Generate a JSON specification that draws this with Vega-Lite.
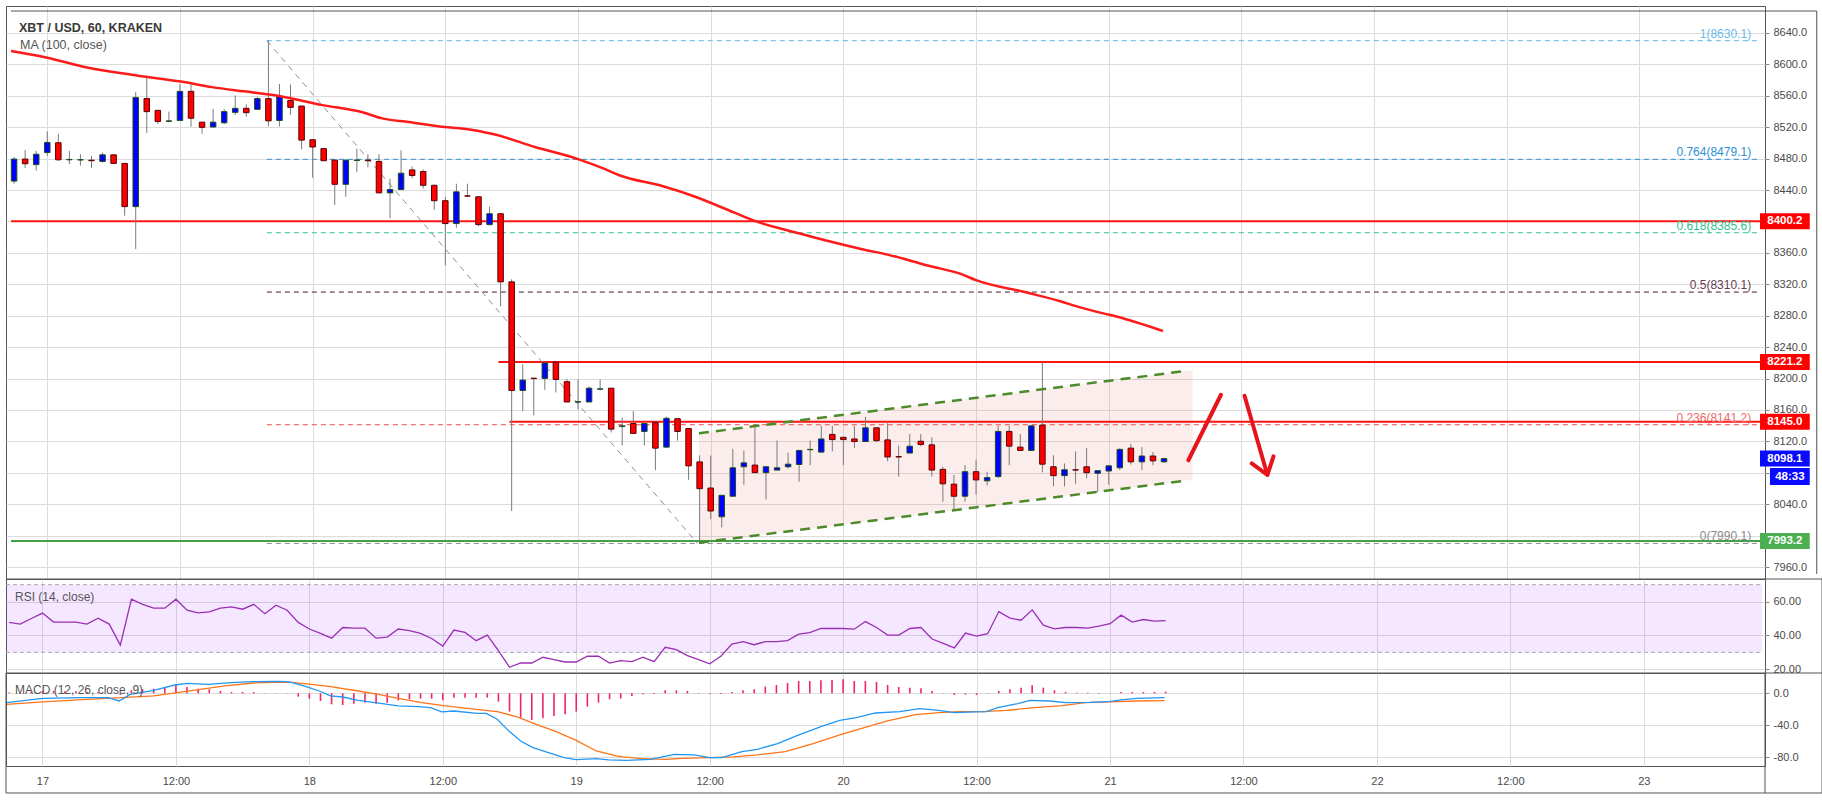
{
"$schema":"https://vega.github.io/schema/vega-lite/v6.json",
"background":"white",
"padding":{"left":3,"top":5,"right":0,"bottom":0},
"autosize":{"type":"pad"},
"bounds":"flush",
"spacing":0,
"config":{
 "view":{"stroke":"#555555","strokeWidth":1},
 "axis":{"labelFont":"Liberation Sans","labelFontSize":11,"labelColor":"#4a4a4a","gridColor":"#dcdcdc","gridWidth":1,"domain":false,"tickColor":"#888888","labelOverlap":false,"labelFlush":false,"title":null},
 "text":{"font":"Liberation Sans"}
},
"datasets":{
"candles":[
{"t":-3,"o":8451.4,"h":8482,"l":8448,"c":8479.4},
{"t":-2,"o":8479.4,"h":8491,"l":8468.1,"c":8473.5},
{"t":-1,"o":8472.3,"h":8489.8,"l":8464.8,"c":8485.6},
{"t":0,"o":8487.7,"h":8514.8,"l":8483.5,"c":8500.6},
{"t":1,"o":8500.2,"h":8511.4,"l":8477.3,"c":8478.5},
{"t":2,"o":8478.5,"h":8489.8,"l":8473,"c":8478.9},
{"t":3,"o":8478.3,"h":8485.6,"l":8471,"c":8478.6},
{"t":4,"o":8478,"h":8483.5,"l":8468,"c":8477.3},
{"t":5,"o":8476.4,"h":8487.7,"l":8475,"c":8484.8},
{"t":6,"o":8484.8,"h":8485.6,"l":8473.5,"c":8473.9},
{"t":7,"o":8473.9,"h":8474.2,"l":8407.3,"c":8418.9},
{"t":8,"o":8418.9,"h":8564.8,"l":8364.8,"c":8557.7},
{"t":9,"o":8556.4,"h":8585.6,"l":8512.7,"c":8539.8},
{"t":10,"o":8541.4,"h":8541.6,"l":8524,"c":8527.3},
{"t":11,"o":8527.5,"h":8539.8,"l":8526.4,"c":8528},
{"t":12,"o":8528.5,"h":8575.2,"l":8528,"c":8565.6},
{"t":13,"o":8565.6,"h":8576,"l":8520.6,"c":8531.4},
{"t":14,"o":8526.4,"h":8526.6,"l":8511.4,"c":8519.8},
{"t":15,"o":8520.2,"h":8543.1,"l":8519.8,"c":8526.4},
{"t":16,"o":8525.6,"h":8543,"l":8524,"c":8539.8},
{"t":17,"o":8538.9,"h":8560.6,"l":8535.6,"c":8544},
{"t":18,"o":8544,"h":8549,"l":8533.5,"c":8538.5},
{"t":19,"o":8542.7,"h":8558.5,"l":8542,"c":8556.4},
{"t":20,"o":8556.4,"h":8630.1,"l":8521,"c":8528.1},
{"t":21,"o":8528.5,"h":8575,"l":8521,"c":8559.4},
{"t":22,"o":8554,"h":8574.4,"l":8535.6,"c":8545.2},
{"t":23,"o":8546.9,"h":8547,"l":8491.9,"c":8503.5},
{"t":24,"o":8504,"h":8504.2,"l":8455.6,"c":8494.8},
{"t":25,"o":8492.7,"h":8492.9,"l":8477,"c":8477.3},
{"t":26,"o":8478.1,"h":8478.3,"l":8421,"c":8447.3},
{"t":27,"o":8447.3,"h":8478.5,"l":8431.4,"c":8478.1},
{"t":28,"o":8477.7,"h":8492.7,"l":8462.7,"c":8478.1},
{"t":29,"o":8478,"h":8485.6,"l":8469,"c":8477.3},
{"t":30,"o":8476.4,"h":8485.6,"l":8436,"c":8436.4},
{"t":31,"o":8436.4,"h":8454.4,"l":8404,"c":8440.6},
{"t":32,"o":8440.6,"h":8490.6,"l":8440,"c":8461.4},
{"t":33,"o":8465.6,"h":8470,"l":8455,"c":8458.5},
{"t":34,"o":8463.5,"h":8466,"l":8442,"c":8446},
{"t":35,"o":8446,"h":8447,"l":8414.8,"c":8426.4},
{"t":36,"o":8426.4,"h":8431.4,"l":8343.9,"c":8397.3},
{"t":37,"o":8397.3,"h":8448,"l":8391.9,"c":8437.7},
{"t":38,"o":8432.5,"h":8448,"l":8431,"c":8432.3},
{"t":39,"o":8431.4,"h":8432,"l":8394,"c":8396},
{"t":40,"o":8396,"h":8418.9,"l":8395,"c":8409.8},
{"t":41,"o":8409.8,"h":8410,"l":8291.9,"c":8323.1},
{"t":42,"o":8323.1,"h":8326.4,"l":8031.4,"c":8184.8},
{"t":43,"o":8184.8,"h":8218.1,"l":8158.5,"c":8198.1},
{"t":44,"o":8200.5,"h":8200.6,"l":8153.1,"c":8200},
{"t":45,"o":8200.2,"h":8221,"l":8185.6,"c":8219.8},
{"t":46,"o":8221,"h":8221.2,"l":8182.3,"c":8198.9},
{"t":47,"o":8196,"h":8199,"l":8170,"c":8170.2},
{"t":48,"o":8170,"h":8199,"l":8160.6,"c":8170.5},
{"t":49,"o":8170.2,"h":8189.8,"l":8170,"c":8187.7},
{"t":50,"o":8186.5,"h":8199,"l":8184.8,"c":8186.9},
{"t":51,"o":8187.7,"h":8188,"l":8131.4,"c":8135.6},
{"t":52,"o":8138.9,"h":8150.2,"l":8114.8,"c":8139.8},
{"t":53,"o":8142.7,"h":8158.5,"l":8130,"c":8130.2},
{"t":54,"o":8132.7,"h":8143,"l":8114.8,"c":8142.7},
{"t":55,"o":8143.9,"h":8144,"l":8083.5,"c":8111.4},
{"t":56,"o":8112.7,"h":8151.4,"l":8112.5,"c":8149.4},
{"t":57,"o":8148.9,"h":8149,"l":8121,"c":8132.7},
{"t":58,"o":8136.4,"h":8136.6,"l":8071,"c":8088.9},
{"t":59,"o":8093.9,"h":8102.3,"l":7990.1,"c":8059.8},
{"t":60,"o":8060.6,"h":8102,"l":8021,"c":8031.4},
{"t":61,"o":8024,"h":8051.6,"l":8010.6,"c":8051.4},
{"t":62,"o":8050.2,"h":8110.6,"l":8050,"c":8086.4},
{"t":63,"o":8087.7,"h":8108.5,"l":8064.8,"c":8092.7},
{"t":64,"o":8089.8,"h":8141.9,"l":8080,"c":8080.2},
{"t":65,"o":8080.2,"h":8088,"l":8046,"c":8087.7},
{"t":66,"o":8083.5,"h":8121,"l":8083.3,"c":8086.4},
{"t":67,"o":8087.7,"h":8105.6,"l":8085.6,"c":8091},
{"t":68,"o":8090.6,"h":8108.7,"l":8068.9,"c":8108.5},
{"t":69,"o":8109.4,"h":8121,"l":8089.8,"c":8109.8},
{"t":70,"o":8106.4,"h":8139.8,"l":8106.2,"c":8123.1},
{"t":71,"o":8128.9,"h":8139.8,"l":8107.3,"c":8122.3},
{"t":72,"o":8125.2,"h":8125.4,"l":8089.8,"c":8122.3},
{"t":73,"o":8123.1,"h":8139.8,"l":8111.4,"c":8119.8},
{"t":74,"o":8119.8,"h":8151.4,"l":8119.6,"c":8137.3},
{"t":75,"o":8137.3,"h":8137.5,"l":8119,"c":8121},
{"t":76,"o":8121.9,"h":8143.1,"l":8094.8,"c":8100.2},
{"t":77,"o":8100.6,"h":8114.8,"l":8075.2,"c":8100.2},
{"t":78,"o":8105.2,"h":8129.4,"l":8105,"c":8113.9},
{"t":79,"o":8120.2,"h":8129.4,"l":8114,"c":8116},
{"t":80,"o":8115.6,"h":8125.2,"l":8075.2,"c":8083.5},
{"t":81,"o":8084.4,"h":8087.7,"l":8043.1,"c":8066},
{"t":82,"o":8065.6,"h":8077.3,"l":8031.4,"c":8050.2},
{"t":83,"o":8050.2,"h":8089.8,"l":8043,"c":8081.4},
{"t":84,"o":8081.4,"h":8096.9,"l":8052.3,"c":8071},
{"t":85,"o":8069.8,"h":8081.4,"l":8064,"c":8074},
{"t":86,"o":8075.2,"h":8139.8,"l":8073,"c":8132.7},
{"t":87,"o":8132.7,"h":8139.8,"l":8089.8,"c":8114},
{"t":88,"o":8112.7,"h":8129.4,"l":8108.3,"c":8108.5},
{"t":89,"o":8108.5,"h":8141,"l":8108.3,"c":8139.8},
{"t":90,"o":8140.6,"h":8221.2,"l":8080.6,"c":8091},
{"t":91,"o":8087.7,"h":8102.3,"l":8062.7,"c":8076.4},
{"t":92,"o":8076.4,"h":8091.9,"l":8062.7,"c":8083.9},
{"t":93,"o":8083.9,"h":8107.3,"l":8066,"c":8083.5},
{"t":94,"o":8087.7,"h":8111.4,"l":8073.1,"c":8080.2},
{"t":95,"o":8079.4,"h":8083,"l":8055.6,"c":8082.7},
{"t":96,"o":8082.3,"h":8088.9,"l":8064.8,"c":8088.9},
{"t":97,"o":8086.4,"h":8111.4,"l":8083.5,"c":8109.8},
{"t":98,"o":8111.4,"h":8116.9,"l":8090.6,"c":8094},
{"t":99,"o":8094,"h":8112.7,"l":8083.5,"c":8101.4},
{"t":100,"o":8101.4,"h":8106.4,"l":8089.8,"c":8095.2},
{"t":101,"o":8094,"h":8099,"l":8093,"c":8098.1}
],
"ma":[
{"t":-3.28,"v":8617},{"t":0,"v":8608.5},{"t":3.6,"v":8596},{"t":8.2,"v":8585.6},{"t":12.1,"v":8578.1},{"t":14.9,"v":8571},{"t":17.8,"v":8565.6},{"t":20.6,"v":8560.6},{"t":24.9,"v":8548.1},{"t":28.5,"v":8539},{"t":30.2,"v":8531.5},{"t":32.7,"v":8526.5},{"t":35.9,"v":8520.2},{"t":37.7,"v":8518.1},{"t":40.5,"v":8510.6},{"t":44.1,"v":8494.8},{"t":48,"v":8479.4},{"t":50.4,"v":8466.9},{"t":51.8,"v":8458.5},{"t":55.7,"v":8444.8},{"t":58.6,"v":8431.5},{"t":62.1,"v":8411.5},{"t":64.1,"v":8400.2},{"t":67.5,"v":8386.5},{"t":70,"v":8377.3},{"t":73.9,"v":8364},{"t":76,"v":8357.8},{"t":79.6,"v":8344},{"t":82.8,"v":8332.3},{"t":84,"v":8325.2},{"t":88.5,"v":8309.8},{"t":91.7,"v":8298.1},{"t":93.1,"v":8291.9},{"t":95.6,"v":8282.7},{"t":96.6,"v":8279.4},{"t":100.9,"v":8260.6}
],
"fib":[
{"lvl":"1","p":8630.1,"label":"1(8630.1)"},
{"lvl":"0.764","p":8479.1,"label":"0.764(8479.1)"},
{"lvl":"0.618","p":8385.6,"label":"0.618(8385.6)"},
{"lvl":"0.5","p":8310.1,"label":"0.5(8310.1)"},
{"lvl":"0.236","p":8141.2,"label":"0.236(8141.2)"},
{"lvl":"0","p":7990.1,"label":"0(7990.1)"}
],
"fibline":[{"t":19.86,"p":8630.1},{"t":58.8,"p":7990.1}],
"levels":[
{"name":"r1","p":8400.2,"from":-3.28},
{"name":"r2","p":8221.2,"from":40.8},
{"name":"r3","p":8145.0,"from":41.8},
{"name":"s1","p":7993.2,"from":-3.28}
],
"channel":[
{"side":"upper","t":58.94,"p":8130.3},{"side":"upper","t":103.03,"p":8209.8},
{"side":"lower","t":58.94,"p":7991.0},{"side":"lower","t":103.03,"p":8070.2}
],
"channelBand":[{"t":58.94,"lo":7991.0,"up":8130.3},{"t":103.6,"lo":8071.2,"up":8210.8}],
"arrows":[
{"seg":"up","i":0,"t":103.2,"p":8096},{"seg":"up","i":1,"t":106.15,"p":8179.4},
{"seg":"down","i":0,"t":108.28,"p":8178.1},{"seg":"down","i":1,"t":110.35,"p":8077.3},
{"seg":"head","i":0,"t":108.93,"p":8091.9},{"seg":"head","i":1,"t":110.35,"p":8077.3},{"seg":"head","i":2,"t":110.9,"p":8100.9}
],
"tags":[
{"label":"8400.2","p":8400.2,"kind":"red"},
{"label":"8221.2","p":8221.2,"kind":"red"},
{"label":"8145.0","p":8145.0,"kind":"red"},
{"label":"8098.1","p":8098.1,"kind":"blue"},
{"label":"7993.2","p":7993.2,"kind":"green"}
],
"countdown":[{"label":"48:33","p":8075.2}],
"rsi":[
{"t":-3,"v":47.7},{"t":-2,"v":46.7},{"t":-1,"v":50.0},{"t":0,"v":53.2},{"t":1,"v":47.9},{"t":2,"v":47.9},{"t":3,"v":47.9},{"t":4,"v":46.7},{"t":5,"v":50.2},{"t":6,"v":46.7},{"t":7,"v":34.3},{"t":8,"v":61.4},{"t":9,"v":58.4},{"t":10,"v":56.1},{"t":11,"v":56.1},{"t":12,"v":61.4},{"t":13,"v":54.9},{"t":14,"v":53.3},{"t":15,"v":53.9},{"t":16,"v":56.1},{"t":17,"v":56.9},{"t":18,"v":55.5},{"t":19,"v":58.4},{"t":20,"v":52.8},{"t":21,"v":57.9},{"t":22,"v":54.9},{"t":23,"v":47.7},{"t":24,"v":43.8},{"t":25,"v":41.2},{"t":26,"v":38.4},{"t":27,"v":44.7},{"t":28,"v":44.3},{"t":29,"v":44.3},{"t":30,"v":38.4},{"t":31,"v":39.0},{"t":32,"v":43.8},{"t":33,"v":42.8},{"t":34,"v":41.2},{"t":35,"v":38.2},{"t":36,"v":33.7},{"t":37,"v":43.2},{"t":38,"v":41.8},{"t":39,"v":36.9},{"t":40,"v":40.2},{"t":41,"v":31.0},{"t":42,"v":21.2},{"t":43,"v":23.7},{"t":44,"v":23.7},{"t":45,"v":27.1},{"t":46,"v":25.7},{"t":47,"v":24.3},{"t":48,"v":24.3},{"t":49,"v":27.7},{"t":50,"v":27.7},{"t":51,"v":23.7},{"t":52,"v":25.1},{"t":53,"v":24.5},{"t":54,"v":27.1},{"t":55,"v":24.5},{"t":56,"v":33.0},{"t":57,"v":31.6},{"t":58,"v":28.1},{"t":59,"v":25.7},{"t":60,"v":23.2},{"t":61,"v":27.7},{"t":62,"v":34.9},{"t":63,"v":36.3},{"t":64,"v":34.5},{"t":65,"v":36.3},{"t":66,"v":36.3},{"t":67,"v":36.9},{"t":68,"v":40.8},{"t":69,"v":41.6},{"t":70,"v":44.1},{"t":71,"v":44.1},{"t":72,"v":44.1},{"t":73,"v":43.7},{"t":74,"v":48.2},{"t":75,"v":44.7},{"t":76,"v":40.2},{"t":77,"v":40.2},{"t":78,"v":44.1},{"t":79,"v":44.7},{"t":80,"v":37.9},{"t":81,"v":35.3},{"t":82,"v":32.6},{"t":83,"v":41.4},{"t":84,"v":39.6},{"t":85,"v":41.0},{"t":86,"v":54.1},{"t":87,"v":50.2},{"t":88,"v":49.0},{"t":89,"v":55.1},{"t":90,"v":46.1},{"t":91,"v":43.9},{"t":92,"v":44.7},{"t":93,"v":44.7},{"t":94,"v":44.3},{"t":95,"v":45.5},{"t":96,"v":46.9},{"t":97,"v":52.0},{"t":98,"v":47.9},{"t":99,"v":49.4},{"t":100,"v":48.4},{"t":101,"v":48.8}
],
"rsiBand":[{"lvl":70},{"lvl":30}],
"macd":[
{"t":-3.2,"v":-11.7},{"t":0,"v":-6.3},{"t":3.6,"v":-5.4},{"t":5.9,"v":-5.4},{"t":6.9,"v":-9.6},{"t":7.9,"v":-1.3},{"t":10,"v":3.7},{"t":11.9,"v":10.4},{"t":13,"v":12.5},{"t":14.9,"v":11.2},{"t":16.9,"v":13.3},{"t":18.9,"v":14.6},{"t":21,"v":15.0},{"t":22.1,"v":14.6},{"t":23.5,"v":9.2},{"t":24.9,"v":2.9},{"t":25.9,"v":-3.3},{"t":27,"v":-4.6},{"t":28.4,"v":-8.8},{"t":29.9,"v":-11.7},{"t":32,"v":-15.8},{"t":33.8,"v":-16.7},{"t":34.9,"v":-17.9},{"t":35.9,"v":-23.3},{"t":37,"v":-22.1},{"t":39.1,"v":-25},{"t":39.9,"v":-25},{"t":40.9,"v":-32.5},{"t":42,"v":-47.9},{"t":43,"v":-59.6},{"t":44.1,"v":-67.9},{"t":45.5,"v":-74.2},{"t":46.9,"v":-80.4},{"t":48,"v":-82.9},{"t":49.8,"v":-81.7},{"t":50.9,"v":-83.3},{"t":52.5,"v":-83.8},{"t":54.7,"v":-82.5},{"t":56.8,"v":-76.3},{"t":58.6,"v":-77.1},{"t":60,"v":-80.4},{"t":61.1,"v":-80.4},{"t":62.9,"v":-72.9},{"t":64.3,"v":-70},{"t":66.1,"v":-62.9},{"t":67.8,"v":-53.3},{"t":70,"v":-41.7},{"t":71.7,"v":-33.8},{"t":73.2,"v":-30.4},{"t":74.9,"v":-24.6},{"t":77.1,"v":-22.9},{"t":78.9,"v":-19.2},{"t":80.6,"v":-21.3},{"t":82,"v":-24.2},{"t":83.8,"v":-23.3},{"t":84.9,"v":-22.9},{"t":85.9,"v":-17.9},{"t":87.7,"v":-12.9},{"t":88.8,"v":-8.8},{"t":90.6,"v":-9.6},{"t":92,"v":-11.7},{"t":94.2,"v":-11.3},{"t":95.9,"v":-10.4},{"t":97,"v":-8.3},{"t":98.4,"v":-6.3},{"t":100.9,"v":-5.4}
],
"signal":[
{"t":-3.2,"v":-13.8},{"t":0,"v":-10.8},{"t":3.6,"v":-7.9},{"t":7.1,"v":-5.4},{"t":10,"v":-3.3},{"t":12.1,"v":0.8},{"t":14.2,"v":5},{"t":16.4,"v":9.2},{"t":18.9,"v":12.9},{"t":21,"v":13.7},{"t":22.4,"v":13.7},{"t":24.2,"v":11.2},{"t":25.9,"v":8.3},{"t":28.4,"v":2.9},{"t":30.2,"v":-1.3},{"t":32,"v":-6.3},{"t":34.1,"v":-11.7},{"t":35.9,"v":-15},{"t":38.4,"v":-19.2},{"t":40.9,"v":-22.9},{"t":42.7,"v":-29.6},{"t":44.4,"v":-38.8},{"t":46.2,"v":-47.9},{"t":48,"v":-58.8},{"t":49.8,"v":-72.1},{"t":51.6,"v":-78.3},{"t":52.2,"v":-79.6},{"t":53.9,"v":-81.7},{"t":56.1,"v":-82.5},{"t":57.5,"v":-81.3},{"t":60,"v":-80.4},{"t":62.1,"v":-79.6},{"t":64.3,"v":-77.1},{"t":66.8,"v":-72.9},{"t":69.3,"v":-62.9},{"t":71.7,"v":-52.1},{"t":73.9,"v":-42.9},{"t":76,"v":-34.6},{"t":78.5,"v":-26.7},{"t":80.6,"v":-24.2},{"t":82.4,"v":-22.9},{"t":84.5,"v":-22.9},{"t":86.7,"v":-21.3},{"t":89.2,"v":-17.9},{"t":91.7,"v":-15.4},{"t":93.8,"v":-11.7},{"t":95.9,"v":-10.8},{"t":98.4,"v":-9.6},{"t":100.9,"v":-9.2}
],
"hist":[
{"t":-3,"v":1},{"t":-2,"v":1.5},{"t":-1,"v":2},{"t":0,"v":3},{"t":1,"v":3},{"t":2,"v":2.5},{"t":3,"v":2.5},{"t":4,"v":2},{"t":5,"v":1.5},{"t":6,"v":0.5},{"t":7,"v":-2},{"t":8,"v":4},{"t":9,"v":5},{"t":10,"v":5.8},{"t":11,"v":7},{"t":12,"v":10.4},{"t":13,"v":7.9},{"t":14,"v":5.8},{"t":15,"v":5},{"t":16,"v":2.9},{"t":17,"v":1.7},{"t":18,"v":1.7},{"t":19,"v":1.7},{"t":20,"v":0.4},{"t":21,"v":0.3},{"t":22,"v":0.3},{"t":23,"v":-4.2},{"t":24,"v":-6.7},{"t":25,"v":-9.6},{"t":26,"v":-13.8},{"t":27,"v":-14.6},{"t":28,"v":-12.9},{"t":29,"v":-11.7},{"t":30,"v":-12.9},{"t":31,"v":-11.7},{"t":32,"v":-8.8},{"t":33,"v":-7.5},{"t":34,"v":-6.7},{"t":35,"v":-6.7},{"t":36,"v":-8.8},{"t":37,"v":-5.4},{"t":38,"v":-5.4},{"t":39,"v":-5.4},{"t":40,"v":-5.4},{"t":41,"v":-10.4},{"t":42,"v":-22.9},{"t":43,"v":-30.4},{"t":44,"v":-33.3},{"t":45,"v":-31.3},{"t":46,"v":-28.3},{"t":47,"v":-26.3},{"t":48,"v":-22.9},{"t":49,"v":-16.7},{"t":50,"v":-11.7},{"t":51,"v":-7.5},{"t":52,"v":-6.5},{"t":53,"v":-3.3},{"t":54,"v":-1.3},{"t":55,"v":-1},{"t":56,"v":3.8},{"t":57,"v":3.8},{"t":58,"v":2.9},{"t":59,"v":0.5},{"t":60,"v":-1},{"t":61,"v":-1},{"t":62,"v":1.7},{"t":63,"v":3.8},{"t":64,"v":5},{"t":65,"v":8.3},{"t":66,"v":10.4},{"t":67,"v":12.9},{"t":68,"v":15.4},{"t":69,"v":15.4},{"t":70,"v":16.3},{"t":71,"v":16.7},{"t":72,"v":17.5},{"t":73,"v":15.4},{"t":74,"v":15.4},{"t":75,"v":14.2},{"t":76,"v":10.4},{"t":77,"v":7.9},{"t":78,"v":7.1},{"t":79,"v":6.3},{"t":80,"v":2.9},{"t":81,"v":0.4},{"t":82,"v":-2.1},{"t":83,"v":-1.7},{"t":84,"v":-2.1},{"t":85,"v":-0.4},{"t":86,"v":2.9},{"t":87,"v":5},{"t":88,"v":7.1},{"t":89,"v":10},{"t":90,"v":7.1},{"t":91,"v":3.8},{"t":92,"v":1.7},{"t":93,"v":0.8},{"t":94,"v":0.8},{"t":95,"v":-0.4},{"t":96,"v":0.4},{"t":97,"v":1.7},{"t":98,"v":1.7},{"t":99,"v":1.7},{"t":100,"v":1.7},{"t":101,"v":2.1}
]
},
"vconcat":[
{
"width":1759,"height":573,
"layer":[
{"data":{"name":"channelBand"},"mark":{"type":"area","color":"#e57373","opacity":0.13},
 "encoding":{"x":{"field":"t","type":"quantitative","scale":{"domain":[-3.28,154.9],"nice":false,"zero":false},"axis":{"values":[0,12,24,36,48,60,72,84,96,108,120,132,144],"tickCount":40,"labels":false,"ticks":false,"domain":false,"grid":true,"title":null}},
 "y":{"field":"lo","type":"quantitative","scale":{"domain":[7951.2,8667.9],"nice":false,"zero":false},"axis":{"orient":"right","values":[7960,8000,8040,8080,8120,8160,8200,8240,8280,8320,8360,8400,8440,8480,8520,8560,8600,8640],"tickCount":40,"format":".1f","labelExpr":"(datum.value === 8400 || datum.value === 8080 || datum.value === 8000) ? '' : datum.label","grid":true,"title":null,"tickSize":4,"labelPadding":4,"labelOverlap":false,"labelBound":false}},"y2":{"field":"up"}}},
{"data":{"name":"fib"},"mark":{"type":"rule","strokeWidth":1,"strokeDash":[5,4]},
 "encoding":{"x":{"datum":19.86,"type":"quantitative"},"x2":{"datum":154.9},"y":{"field":"p","type":"quantitative"},
 "color":{"condition":[{"test":"datum.lvl==='1'","value":"#5eb6ea"},{"test":"datum.lvl==='0.764'","value":"#2d8fd5"},{"test":"datum.lvl==='0.618'","value":"#2fbf8f"},{"test":"datum.lvl==='0.5'","value":"#4d1a33"},{"test":"datum.lvl==='0.236'","value":"#ef4b4b"}],"value":"#8c8c8c"}}},
{"data":{"name":"levels"},"mark":{"type":"rule","strokeWidth":2},
 "encoding":{"x":{"field":"from","type":"quantitative"},"x2":{"datum":154.9},"y":{"field":"p","type":"quantitative"},
 "color":{"condition":{"test":"datum.p<8000","value":"#43a047"},"value":"#ff1414"}}},
{"data":{"name":"fibline"},"mark":{"type":"line","color":"#8f8f8f","strokeWidth":1,"strokeDash":[6,5]},
 "encoding":{"x":{"field":"t","type":"quantitative"},"y":{"field":"p","type":"quantitative"}}},
{"data":{"name":"candles"},"mark":{"type":"rule","color":"#7a7a7a","strokeWidth":1},
 "encoding":{"x":{"field":"t","type":"quantitative"},"y":{"field":"l","type":"quantitative"},"y2":{"field":"h"}}},
{"data":{"name":"candles"},"mark":{"type":"bar","width":5.5,"strokeWidth":1},
 "encoding":{"x":{"field":"t","type":"quantitative"},"y":{"field":"o","type":"quantitative"},"y2":{"field":"c"},
 "fill":{"condition":{"test":"datum.c>datum.o","value":"#0000ff"},"value":"#ff0000"},
 "stroke":{"condition":{"test":"datum.c>datum.o","value":"#1e4d1e"},"value":"#5a0000"}}},
{"data":{"name":"ma"},"mark":{"type":"line","color":"#ff1a1a","strokeWidth":2.5,"interpolate":"monotone"},
 "encoding":{"x":{"field":"t","type":"quantitative"},"y":{"field":"v","type":"quantitative"}}},
{"data":{"name":"channel"},"mark":{"type":"line","color":"#4d8a2a","strokeWidth":2.5,"strokeDash":[10,7]},
 "encoding":{"x":{"field":"t","type":"quantitative"},"y":{"field":"p","type":"quantitative"},"detail":{"field":"side"}}},
{"data":{"name":"arrows"},"mark":{"type":"line","color":"#e8141c","strokeWidth":4,"strokeCap":"round","strokeJoin":"round"},
 "encoding":{"x":{"field":"t","type":"quantitative"},"y":{"field":"p","type":"quantitative"},"detail":{"field":"seg"},"order":{"field":"i"}}},
{"data":{"name":"fib"},"mark":{"type":"text","align":"right","baseline":"alphabetic","dy":-3,"fontSize":12},
 "encoding":{"x":{"datum":154.1,"type":"quantitative"},"y":{"field":"p","type":"quantitative"},"text":{"field":"label"},
 "color":{"condition":[{"test":"datum.lvl==='1'","value":"#6cbcec"},{"test":"datum.lvl==='0.764'","value":"#2d8fd5"},{"test":"datum.lvl==='0.618'","value":"#2fbf8f"},{"test":"datum.lvl==='0.5'","value":"#6a3a52"},{"test":"datum.lvl==='0.236'","value":"#ef6b6b"}],"value":"#8c8c8c"}}},
{"data":{"name":"tags"},"mark":{"type":"bar","orient":"horizontal","height":16},
 "encoding":{"x":{"datum":154.9,"type":"quantitative"},"x2":{"datum":159.4},"y":{"field":"p","type":"quantitative"},
 "color":{"condition":[{"test":"datum.kind==='red'","value":"#ff0000"},{"test":"datum.kind==='blue'","value":"#0a0aff"}],"value":"#4caf50"}}},
{"data":{"name":"countdown"},"mark":{"type":"bar","orient":"horizontal","height":17,"color":"#0a0aff"},
 "encoding":{"x":{"datum":155.8,"type":"quantitative"},"x2":{"datum":159.4},"y":{"field":"p","type":"quantitative"}}},
{"data":{"name":"tags"},"mark":{"type":"text","align":"center","baseline":"middle","fontSize":11.5,"fontWeight":"bold","color":"white"},
 "encoding":{"x":{"datum":157.15,"type":"quantitative"},"y":{"field":"p","type":"quantitative"},"text":{"field":"label"}}},
{"data":{"name":"countdown"},"mark":{"type":"text","align":"center","baseline":"middle","fontSize":11.5,"fontWeight":"bold","color":"white"},
 "encoding":{"x":{"datum":157.6,"type":"quantitative"},"y":{"field":"p","type":"quantitative"},"text":{"field":"label"}}},
{"data":{"values":[{"label":"XBT / USD, 60, KRAKEN"}]},"mark":{"type":"text","align":"left","baseline":"middle","dx":8,"dy":17,"fontSize":12.5,"fontWeight":"bold","color":"#3a3a3a"},
 "encoding":{"x":{"datum":-3.28,"type":"quantitative"},"y":{"datum":8667.9,"type":"quantitative"},"text":{"field":"label"}}},
{"data":{"values":[{"label":"MA (100, close)"}]},"mark":{"type":"text","align":"left","baseline":"middle","dx":9,"dy":34,"fontSize":12.5,"color":"#555555"},
 "encoding":{"x":{"datum":-3.28,"type":"quantitative"},"y":{"datum":8667.9,"type":"quantitative"},"text":{"field":"label"}}},
{"data":{"values":[{}]},"mark":{"type":"rule","color":"#555555","strokeWidth":1},
 "encoding":{"x":{"datum":-3.28,"type":"quantitative"},"x2":{"datum":160.03},"y":{"datum":8667.9,"type":"quantitative"}}},
{"data":{"values":[{}]},"mark":{"type":"rule","color":"#555555","strokeWidth":1},
 "encoding":{"x":{"datum":160.03,"type":"quantitative"},"y":{"datum":7951.2,"type":"quantitative"},"y2":{"datum":8667.9}}}
]
},
{
"width":1759,"height":94,
"layer":[
{"data":{"values":[{}]},"mark":{"type":"rect","color":"#9915ff","opacity":0.1},
 "encoding":{"x":{"datum":-3.28,"type":"quantitative","scale":{"domain":[-3.28,154.9],"nice":false,"zero":false},"axis":{"values":[0,12,24,36,48,60,72,84,96,108,120,132,144],"tickCount":40,"labels":false,"ticks":false,"domain":false,"grid":true,"title":null}},"x2":{"datum":154.63},
 "y":{"datum":30,"type":"quantitative","scale":{"domain":[17.8,73.35],"nice":false,"zero":false},"axis":{"orient":"right","values":[20,40,60],"tickCount":10,"format":".2f","grid":true,"title":null,"tickSize":4,"labelPadding":4,"labelOverlap":false,"labelBound":false}},"y2":{"datum":70}}},
{"data":{"name":"rsiBand"},"mark":{"type":"rule","color":"#a8a8a8","strokeWidth":1,"strokeDash":[4,3]},
 "encoding":{"x":{"datum":-3.28,"type":"quantitative"},"x2":{"datum":154.63},"y":{"field":"lvl","type":"quantitative"}}},
{"data":{"name":"rsi"},"mark":{"type":"line","color":"#9a2fb3","strokeWidth":1.3},
 "encoding":{"x":{"field":"t","type":"quantitative"},"y":{"field":"v","type":"quantitative"}}},
{"data":{"values":[{"label":"RSI (14, close)"}]},"mark":{"type":"text","align":"left","baseline":"middle","dx":9,"dy":18,"fontSize":12,"color":"#555555"},
 "encoding":{"x":{"datum":-3.28,"type":"quantitative"},"y":{"datum":73.35,"type":"quantitative"},"text":{"field":"label"}}},
{"data":{"values":[{}]},"mark":{"type":"rule","color":"#555555","strokeWidth":1},
 "encoding":{"x":{"datum":-3.28,"type":"quantitative"},"x2":{"datum":160.03},"y":{"datum":73.35,"type":"quantitative"}}},
{"data":{"values":[{}]},"mark":{"type":"rule","color":"#555555","strokeWidth":1},
 "encoding":{"x":{"datum":160.03,"type":"quantitative"},"y":{"datum":17.8,"type":"quantitative"},"y2":{"datum":73.35}}}
]
},
{
"width":1759,"height":93,
"layer":[
{"data":{"name":"hist"},"mark":{"type":"rule","color":"#f0236a","strokeWidth":1.6},
 "encoding":{"x":{"field":"t","type":"quantitative","scale":{"domain":[-3.28,154.9],"nice":false,"zero":false},"axis":{"values":[0,12,24,36,48,60,72,84,96,108,120,132,144],"tickCount":40,"labelExpr":"datum.value % 24 === 0 ? toString(17 + datum.value / 24) : '12:00'","ticks":false,"domain":false,"grid":true,"title":null,"labelPadding":9,"labelOverlap":false}},
 "y":{"field":"v","type":"quantitative","scale":{"domain":[-90.9,25.4],"nice":false,"zero":false},"axis":{"orient":"right","values":[-80,-40,0],"tickCount":10,"format":".1f","labelExpr":"replace(datum.label, '\u2212', '-')","grid":true,"title":null,"tickSize":4,"labelPadding":4,"labelOverlap":false}},"y2":{"datum":0}}},
{"data":{"name":"signal"},"mark":{"type":"line","color":"#ff7418","strokeWidth":1.3},
 "encoding":{"x":{"field":"t","type":"quantitative"},"y":{"field":"v","type":"quantitative"}}},
{"data":{"name":"macd"},"mark":{"type":"line","color":"#2196f3","strokeWidth":1.3},
 "encoding":{"x":{"field":"t","type":"quantitative"},"y":{"field":"v","type":"quantitative"}}},
{"data":{"values":[{"label":"MACD (12, 26, close, 9)"}]},"mark":{"type":"text","align":"left","baseline":"middle","dx":9,"dy":17,"fontSize":12,"color":"#555555"},
 "encoding":{"x":{"datum":-3.28,"type":"quantitative"},"y":{"datum":25.4,"type":"quantitative"},"text":{"field":"label"}}},
{"data":{"values":[{}]},"mark":{"type":"rule","color":"#555555","strokeWidth":1},
 "encoding":{"x":{"datum":-3.28,"type":"quantitative"},"x2":{"datum":160.03},"y":{"datum":25.4,"type":"quantitative"}}},
{"data":{"values":[{}]},"mark":{"type":"rule","color":"#555555","strokeWidth":1},
 "encoding":{"x":{"datum":-3.28,"type":"quantitative"},"x2":{"datum":160.03},"y":{"datum":-124.65,"type":"quantitative"}}},
{"data":{"values":[{"x":-3.28},{"x":154.9},{"x":160.03}]},"mark":{"type":"rule","color":"#555555","strokeWidth":1},
 "encoding":{"x":{"field":"x","type":"quantitative"},"y":{"datum":-124.65,"type":"quantitative"},"y2":{"datum":25.4}}}
]
}
]
}
